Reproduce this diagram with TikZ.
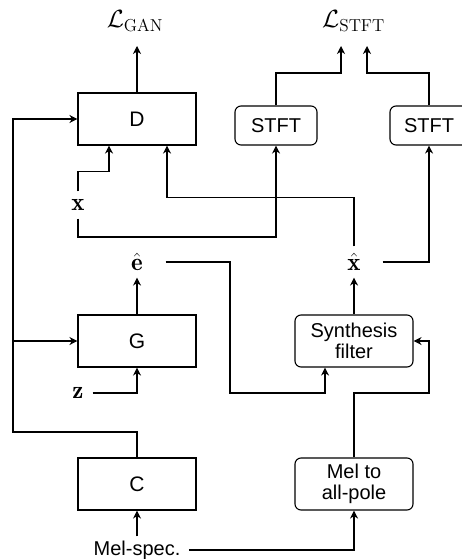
\documentclass[tikz,border=0pt]{standalone}
\usepackage{fontspec}
\newfontfamily\sansf{Liberation Sans}
\usetikzlibrary{arrows.meta,calc}
\newcommand{\mylabmath}[1]{\scalebox{1.2}{$#1$}}
\begin{document}
\begin{tikzpicture}[x=1pt,y=-1pt,
  line width=1.1pt,
  arr/.style={-{Stealth[length=8pt,width=8pt,inset=2.5pt]}},
  blk/.style={draw, minimum width=118pt, minimum height=52pt, inner sep=0pt, font=\sansf\fontsize{21}{22}\selectfont},
  rblk/.style={blk, rounded corners=6pt, align=center, font=\sansf\fontsize{20}{21}\selectfont},
  mlab/.style={inner sep=0pt, font=\fontsize{20.74}{24}\selectfont},
]
\useasboundingbox (0,0) rectangle (462,559);
\clip (0,0) rectangle (462,559);

\node[blk] (D) at (137,119) {D};
\node[blk] (G) at (137,341) {G};
\node[blk] (C) at (137,484) {C};
\node[rblk] (SF) at (354,341) {Synthesis\\filter};
\node[rblk] (MP) at (354,484) {Mel to\\all-pole};
\node[rblk, minimum width=82pt, minimum height=39pt] (S1) at (276,125.5) {STFT};
\node[rblk, minimum width=78pt, minimum height=39pt] (S2) at (429,125.5) {STFT};

\node[mlab, anchor=base] (LG) at (135,28) {\mylabmath{\mathcal{L}_{\mathrm{GAN}}}};
\node[mlab, anchor=base] (LS) at (353.5,28) {\mylabmath{\mathcal{L}_{\mathrm{STFT}}}};
\node[mlab, minimum width=28pt, minimum height=26pt] (X) at (78,205) {\raisebox{-3pt}{\mylabmath{\mathbf{x}}}};
\node[mlab, minimum width=56pt, minimum height=30pt] (EH) at (137,262) {\mylabmath{\hat{\mathbf{e}}}};
\node[mlab, minimum width=56pt, minimum height=30pt] (XH) at (354,262) {\mylabmath{\hat{\mathbf{x}}}};
\node[mlab, minimum width=28pt] (Z) at (78,393) {\raisebox{-3pt}{\mylabmath{\mathbf{z}}}};
\node[inner xsep=8pt, inner ysep=0pt, minimum height=26pt, font=\sansf\fontsize{20}{22}\selectfont] (MS) at (137,550) {Mel-spec.};

\coordinate (gt) at (137,46);
\coordinate (t1) at (341,46);
\coordinate (t2) at (367,46);
\coordinate (yl) at (0,73);
\coordinate (lb) at (13,432);
\coordinate (yb) at (0,237);
\coordinate (ey) at (230,393);
\coordinate (my) at (429,393);

\draw[arr] (D.north) -- (gt);
\draw[arr] (S1.north) -- (S1.north |- yl) -| (t1);
\draw[arr] (S2.north) -- (S2.north |- yl) -| (t2);
\draw[arr] (C.north) |- (lb) |- (D.west);
\draw[arr] (lb |- G.west) -- (G.west);
\draw[arr] (X.north) |- ($(D.south)+(-28,26)$) -- ($(D.south)+(-28,0)$);
\draw[arr] (X.south) |- (S1.south |- yb) -- (S1.south);
\draw[arr] (XH.north) |- ($(D.south)+(30,52)$) -- ($(D.south)+(30,0)$);
\draw[arr] (XH.east) -| (S2.south);
\draw[arr] (G.north) -- (EH.south);
\draw[arr] (SF.north) -- (XH.south);
\draw[arr] (EH.east) -| (ey) -| ($(SF.south)+(-29,0)$);
\draw[arr] (MP.north) |- (my) |- (SF.east);
\draw[arr] (Z.east) -| (G.south);
\draw[arr] (MS.north) -- (C.south);
\draw[arr] (MS.east) -| (MP.south);
\end{tikzpicture}
\end{document}
